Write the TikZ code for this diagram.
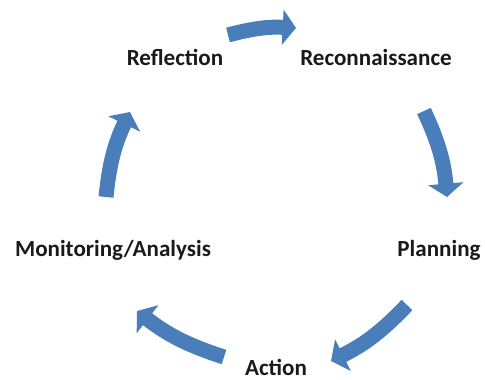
\documentclass[tikz,border=0pt]{standalone}
\usepackage{fontspec}
\setmainfont{Carlito}
\usepackage{tikz}
\usetikzlibrary{arrows.meta, positioning, calc}
\definecolor{colArrow}{HTML}{4A7EBB}
\definecolor{colText} {HTML}{1A1A1A}

\tikzset{
	steplabel/.style={anchor=base, text=colText, inner sep=0pt},
	cyclearrow/.style={draw=colArrow, line width=11.25pt,
		-{Triangle[length=10pt, width=26pt]}, bend left=#1},
}

\begin{document}
\begin{tikzpicture}[x=0.75pt, y=-0.75pt, font=\fontsize{17.3}{20}\selectfont\bfseries]
				\useasboundingbox (0,0) rectangle (485,379);
				% stage labels
				\node[steplabel] (refl)   at (175,65)  {Reflection};
				\node[steplabel] (recon)  at (376,65)  {Reconnaissance};
				\node[steplabel] (plan)   at (439,256) {Planning};
				\node[steplabel] (action) at (276,375) {Action};
				\node[steplabel] (monit)  at (113,256) {Monitoring/Analysis};
				% arrow ends
				\coordinate (a1s) at (228,35);  \coordinate (a1e) at (296,28);
				\coordinate (a2s) at (424,111); \coordinate (a2e) at (447,197);
				\coordinate (a3s) at (407,305); \coordinate (a3e) at (331,361);
				\coordinate (a4s) at (224,357); \coordinate (a4e) at (137,311);
				\coordinate (a5s) at (106,197); \coordinate (a5e) at (130,112);
				\draw[cyclearrow=9] (a1s) to (a1e);
				\draw[cyclearrow=10] (a2s) to (a2e);
				\draw[cyclearrow=10] (a3s) to (a3e);
				\draw[cyclearrow=10] (a4s) to (a4e);
				\draw[cyclearrow=10] (a5s) to (a5e);
		\end{tikzpicture}
\end{document}
